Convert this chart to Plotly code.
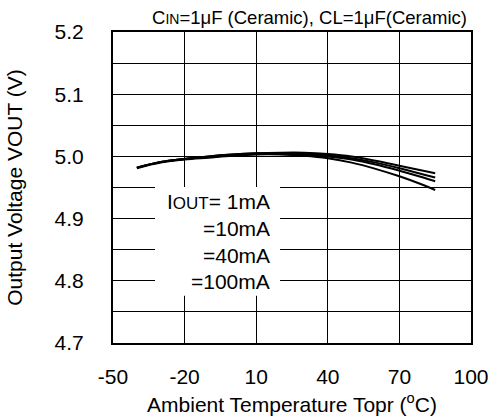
import plotly.graph_objects as go

temps = [-40, -30, -20, -10, 0, 10, 20, 30, 40, 50, 60, 70, 80, 85]
v_1mA = [4.982, 4.991, 4.996, 5.000, 5.003, 5.005, 5.006, 5.006, 5.004, 5.000, 4.993, 4.985, 4.977, 4.973]
v_10mA = [4.982, 4.991, 4.996, 5.000, 5.003, 5.005, 5.005, 5.004, 5.002, 4.997, 4.990, 4.981, 4.971, 4.966]
v_40mA = [4.982, 4.991, 4.996, 4.999, 5.002, 5.004, 5.004, 5.003, 5.000, 4.995, 4.987, 4.977, 4.966, 4.960]
v_100mA = [4.981, 4.990, 4.995, 4.998, 5.001, 5.003, 5.003, 5.001, 4.997, 4.990, 4.980, 4.968, 4.954, 4.946]

x_ticks = [-50, -20, 10, 40, 70, 100]
x_tick_text = ["-50", "-20", "10", "40", "70", "100"]
y_ticks = [4.7, 4.8, 4.9, 5.0, 5.1, 5.2]
y_tick_text = ["4.7", "4.8", "4.9", "5.0", "5.1", "5.2"]
legend_labels = ["I<span style='font-size:17px'>OUT</span>= 1mA", "=10mA", "=40mA", "=100mA"]

FONT = "Liberation Sans, Arial, sans-serif"

fig = go.Figure()
for ys in [v_1mA, v_10mA, v_40mA, v_100mA]:
    fig.add_trace(go.Scatter(x=temps, y=ys, mode="lines", line=dict(color="black", width=2, shape="spline"),
                             showlegend=False, hoverinfo="skip"))

fig.update_layout(
    width=494, height=416,
    margin=dict(l=113, r=23, t=32, b=73),
    paper_bgcolor="white", plot_bgcolor="white",
    font=dict(family=FONT, color="black", size=21),
    xaxis=dict(range=[-50, 100], tickvals=x_ticks, ticktext=x_tick_text, showgrid=True, gridcolor="black", gridwidth=1,
               showline=True, linecolor="black", linewidth=2, mirror=True, ticks="", automargin=False,
               ticklabelstandoff=14, zeroline=False, tickfont=dict(size=21),
               title=dict(text="Ambient Temperature Topr (<sup>o</sup>C)", standoff=10, font=dict(size=21))),
    yaxis=dict(range=[4.7, 5.2], tickvals=y_ticks, ticktext=y_tick_text, showgrid=True, gridcolor="black", gridwidth=1,
               showline=True, linecolor="black", linewidth=2, mirror=True, ticks="", automargin=False,
               ticklabelstandoff=23, zeroline=False, tickfont=dict(size=21),
               minor=dict(dtick=0.05, showgrid=True, gridcolor="black", gridwidth=1),
               title=dict(text="Output Voltage VOUT (V)", standoff=26, font=dict(size=21))),
)

fig.add_shape(type="rect", xref="x", yref="y", x0=-32.4, x1=20.0, y0=4.776, y1=4.951,
              fillcolor="white", line=dict(width=0), layer="above")

ypos = [4.9274, 4.8839, 4.8403, 4.7984]
for lbl, yp in zip(legend_labels, ypos):
    fig.add_annotation(x=16.6, y=yp, xref="x", yref="y", text=lbl, showarrow=False,
                       xanchor="right", yanchor="middle", font=dict(size=21))

fig.add_annotation(x=1.0, y=1.0, xref="paper", yref="paper", xshift=-2, yshift=2,
                   text="C<span style='font-size:14px'>IN</span>=1\u03bcF (Ceramic), CL=1\u03bcF(Ceramic)",
                   showarrow=False, xanchor="right", yanchor="bottom", font=dict(size=18.5))

fig.write_html("out.html", config={"displayModeBar": False, "staticPlot": True},
               post_script="document.body.style.margin='0';document.body.style.overflow='hidden';")
